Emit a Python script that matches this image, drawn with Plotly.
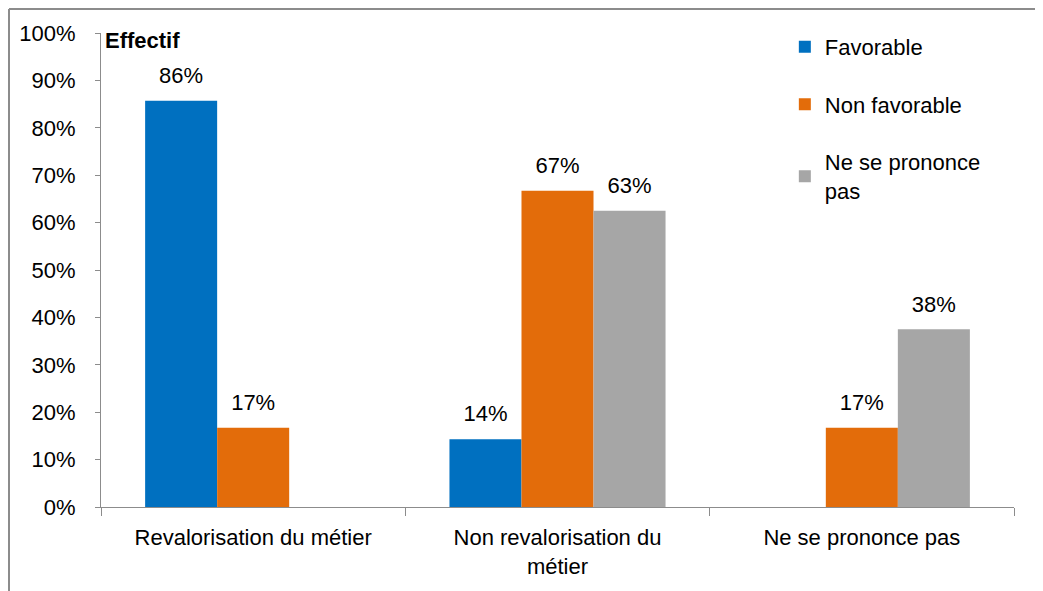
import plotly.graph_objects as go

categories = ["Revalorisation du métier", "Non revalorisation du<br>métier", "Ne se prononce pas"]
series_names = ["Favorable", "Non favorable", "Ne se prononce<br>pas"]
favorable = [85.7, 14.3, None]
non_favorable = [16.7, 66.7, 16.7]
ne_se_prononce = [None, 62.5, 37.5]
colors = ["#0070C0", "#E36C0A", "#A6A6A6"]
y_ticks = [0, 10, 20, 30, 40, 50, 60, 70, 80, 90, 100]
y_tick_labels = ["0%", "10%", "20%", "30%", "40%", "50%", "60%", "70%", "80%", "90%", "100%"]

FONT = "Liberation Sans, Arial, sans-serif"
FS = 22
W, H = 1035, 583
ML, MR, MT, MB = 93, 29, 25, 84
PW, PH = W - ML - MR, H - MT - MB

fig = go.Figure()
all_series = [favorable, non_favorable, ne_se_prononce]
for i, (name, vals, col) in enumerate(zip(series_names, all_series, colors)):
    fig.add_trace(go.Bar(
        x=categories, y=vals, name=name, marker_color=col,
        marker_line_width=0, offsetgroup=str(i), legendgroup=str(i),
    ))
for i, vals in enumerate(all_series):
    fig.add_trace(go.Scatter(
        x=categories, y=vals, mode="markers+text", offsetgroup=str(i),
        marker=dict(size=18, color="rgba(0,0,0,0)"),
        texttemplate="%{y:.0f}%", textposition="top center",
        textfont=dict(size=FS, color="black", family=FONT),
        showlegend=False, hoverinfo="skip", cliponaxis=False,
    ))

fig.update_layout(
    template="none",
    width=W, height=H,
    barmode="group", bargap=0.29, bargroupgap=0,
    scattermode="group", scattergap=0.29,
    plot_bgcolor="white", paper_bgcolor="white",
    margin=dict(l=ML, r=MR, t=MT, b=MB),
    font=dict(family=FONT, size=FS, color="black"),
    showlegend=True,
    legend=dict(x=0.749, y=1.015, xanchor="left", yanchor="top",
                font=dict(size=FS, family=FONT), tracegroupgap=26,
                bgcolor="rgba(0,0,0,0)"),
    xaxis=dict(showline=True, linecolor="#8C8C8C", linewidth=1, automargin=False,
               ticks="outside", tickson="boundaries", ticklen=8, tickcolor="#8C8C8C",
               tickfont=dict(size=FS), showgrid=False, ticklabelstandoff=11),
    yaxis=dict(range=[0, 100], tickvals=y_ticks, ticktext=y_tick_labels, automargin=False,
               showline=True, linecolor="#8C8C8C", linewidth=1,
               ticks="outside", ticklen=5, tickcolor="#8C8C8C",
               showgrid=False, zeroline=False, tickfont=dict(size=FS),
               ticklabelstandoff=15),
    annotations=[dict(text="<b>Effectif</b>", xref="paper", yref="paper",
                      x=0.002, y=0.985, xanchor="left", yanchor="middle",
                      showarrow=False, font=dict(size=FS, family=FONT))],
)
# outer frame: left and top borders
fx = (1 - ML) / PW
fy = (PH + MT - 1) / PH
fig.add_shape(type="line", xref="paper", yref="paper",
              x0=fx, x1=fx, y0=-MB / PH, y1=fy,
              line=dict(color="#8C8C8C", width=2))
fig.add_shape(type="line", xref="paper", yref="paper",
              x0=fx, x1=(W - ML) / PW, y0=fy, y1=fy,
              line=dict(color="#8C8C8C", width=2))

fig.write_html("out.html")
